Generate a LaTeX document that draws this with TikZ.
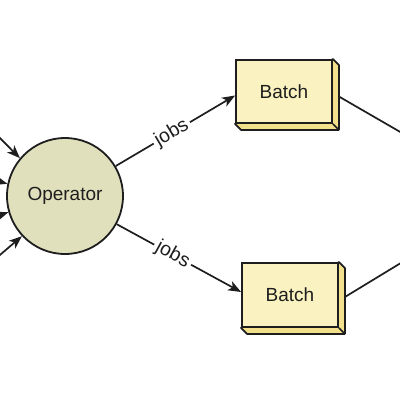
\documentclass[tikz,border=0pt]{standalone}
\usepackage{fontspec}
\setmainfont{Liberation Sans}
\usetikzlibrary{arrows.meta,calc,backgrounds}
\definecolor{opfill}{HTML}{E0E0BC}
\definecolor{boxfront}{HTML}{FAF2C0}
\definecolor{boxside}{HTML}{F3E08C}
\definecolor{ink}{HTML}{1E1E1E}
\begin{document}
\begin{tikzpicture}[x=1pt,y=-1pt,
  opnode/.style={circle,draw=ink,line width=1.8pt,fill=opfill,minimum size=116pt,inner sep=0pt,font=\fontsize{19}{20}\selectfont,text=ink},
  batchbox/.style={rectangle,draw=ink,line width=1.8pt,fill=boxfront,minimum width=96pt,minimum height=63pt,inner sep=0pt,font=\fontsize{19}{20}\selectfont,text=ink},
  conn/.style={draw=ink,line width=1.7pt},
  arr/.style={conn,-{Stealth[length=13pt,width=10pt,inset=3.5pt]}},
  lbl/.style={fill=white,inner sep=3pt,sloped,font=\fontsize{19.5}{20}\selectfont,text=ink}]
\clip (0,0) rectangle (400,400);
\useasboundingbox (0,0) rectangle (400,400);

\node[opnode] (op) at (65,196) {Operator};
\node[batchbox] (b1) at (284,91.5) {Batch};
\node[batchbox,minimum height=64pt] (b2) at (290,295) {Batch};

\begin{scope}[on background layer]
\foreach \b in {b1,b2}{
  \filldraw[fill=boxside,draw=ink,line width=1.8pt,line join=round]
    (\b.north east) -- ++(6,6) -- ($(\b.south east)+(6,6)$) -- ($(\b.south west)+(6,6)$) -- (\b.south west) -- cycle;
  \draw[ink,line width=1.5pt] (\b.south east) -- ++(6,6);
}
\end{scope}

\coordinate (in1) at (-20,118);
\coordinate (in2) at (-20,176);
\coordinate (in3) at (-20,222);
\coordinate (in4) at (-20,272);
\draw[arr] (in1) -- (op.140);
\draw[arr] (in2) -- (op.168);
\draw[arr] (in3) -- (op.196);
\draw[arr] (in4) -- (op.223);

\coordinate (b1in) at ($(b1.west)+(0,4)$);
\coordinate (b2in) at ($(b2.west)+(0,-3)$);
\draw[arr] (op) -- (b1in) node[lbl,pos=0.47] {jobs};
\draw[arr] (op) -- (b2in) node[lbl,pos=0.45] {jobs};

\coordinate (meet) at (511,196);
\coordinate (b1out) at ($(b1.east)+(6,5)$);
\coordinate (b2out) at ($(b2.east)+(6,2)$);
\draw[conn] (b1out) -- (meet);
\draw[conn] (b2out) -- (meet);
\end{tikzpicture}
\end{document}
